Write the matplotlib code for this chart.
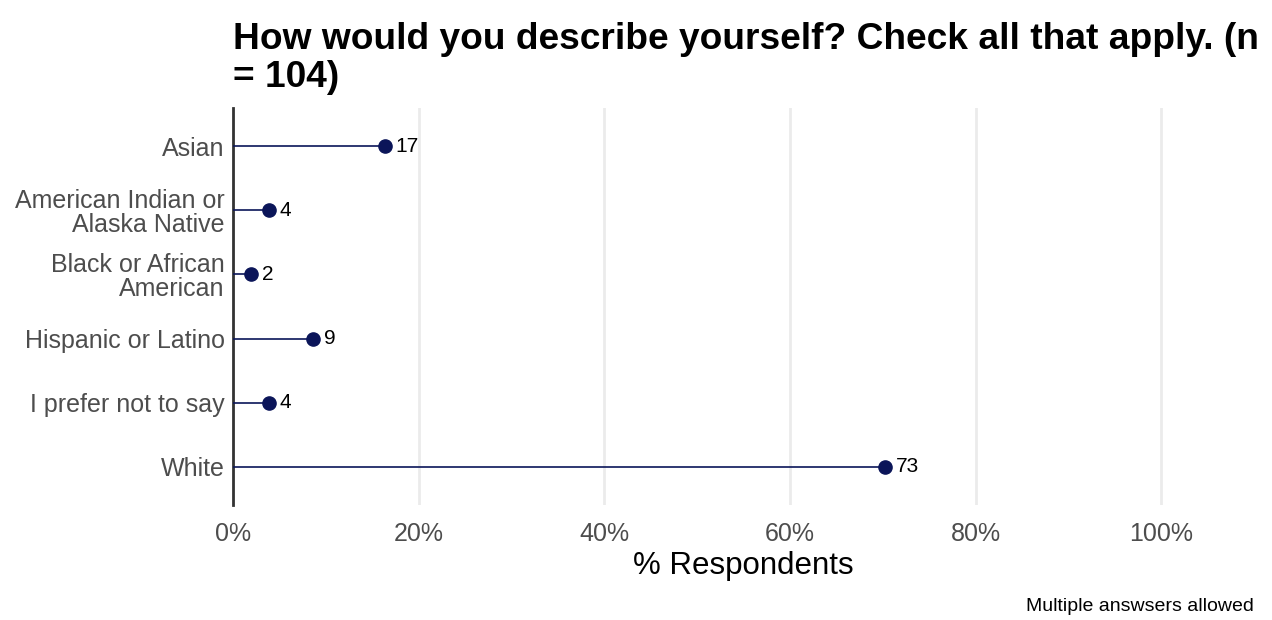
import numpy as np
import matplotlib
matplotlib.use('Agg')
import matplotlib.pyplot as plt
from matplotlib.ticker import PercentFormatter

plt.rcParams['font.family'] = ['Liberation Sans', 'DejaVu Sans']

# data
categories = ['Asian', 'American Indian or\nAlaska Native', 'Black or African\nAmerican',
              'Hispanic or Latino', 'I prefer not to say', 'White']
counts = [17, 4, 2, 9, 4, 73]
n_total = 104
pct = [100.0 * c / n_total for c in counts]

navy = '#0b1559'

fig = plt.figure(figsize=(12.72, 6.2), dpi=100)
ax = fig.add_axes([233/1272, 1 - 505/620, (1254 - 233)/1272, (505 - 108)/620])

ypos = np.arange(len(categories))
ax.hlines(ypos, 0, pct, color=navy, linewidth=1.2, zorder=3)
ax.plot(pct, ypos, 'o', color=navy, markersize=9.5, zorder=4)
for x, y, c in zip(pct, ypos, counts):
    ax.annotate(str(c), (x, y), xytext=(8, 0), textcoords='offset points',
                ha='left', va='center', fontsize=15, color='black')

ax.set_xlim(0, 110)
ax.set_ylim(len(categories) - 0.4, -0.6)
ax.set_xticks([0, 20, 40, 60, 80, 100])
ax.xaxis.set_major_formatter(PercentFormatter(decimals=0))
ax.set_yticks(ypos)
ax.set_yticklabels(categories, linespacing=1.0)
ax.tick_params(axis='both', length=0, labelsize=18, labelcolor='#4d4d4d')
ax.tick_params(axis='y', pad=6)
ax.tick_params(axis='x', pad=12)
ax.grid(axis='x', color='#ebebeb', linewidth=2)
ax.set_axisbelow(True)
for s in ['top', 'right', 'bottom']:
    ax.spines[s].set_visible(False)
ax.spines['left'].set_color('#333333')
ax.spines['left'].set_linewidth(2)

ax.set_xlabel('% Respondents', fontsize=22.5, labelpad=4)
ax.set_title('How would you describe yourself? Check all that apply. (n\n= 104)',
             loc='left', fontsize=26.7, fontweight='bold', pad=15, linespacing=1.12)
fig.text(1254/1272, 1 - 611/620, 'Multiple answsers allowed', ha='right', va='baseline', fontsize=14)

fig.savefig('out.png', dpi=100)
